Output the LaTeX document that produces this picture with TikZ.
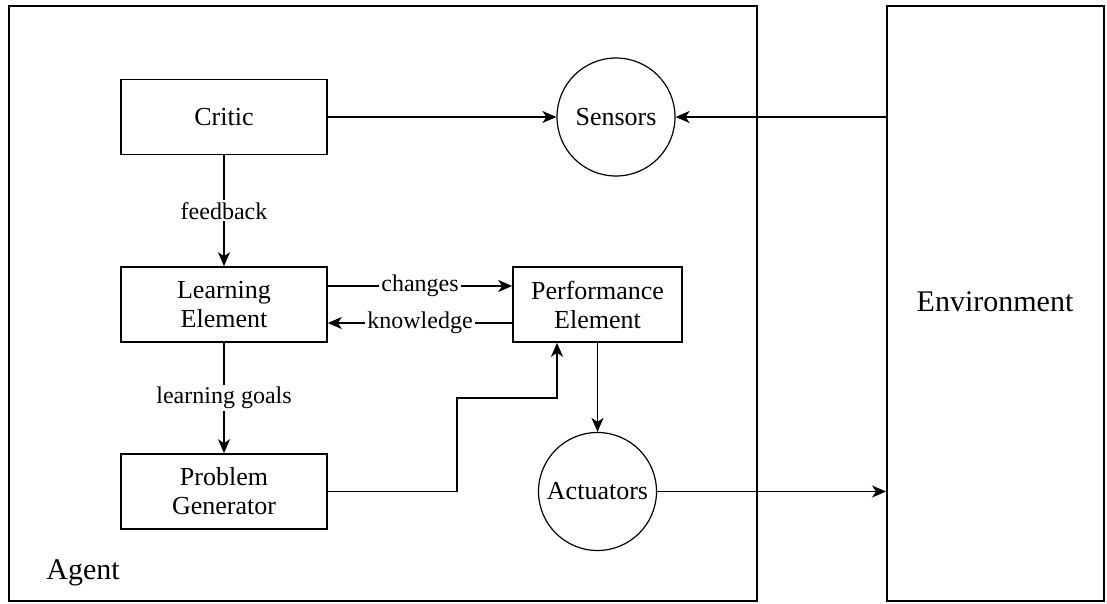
\documentclass[tikz,border=0pt]{standalone}
\usepackage{fontspec}
\setmainfont{Liberation Serif}
\newfontfamily\tnr{Liberation Serif}
\usetikzlibrary{arrows.meta,calc}
\begin{document}
\begin{tikzpicture}[x=1pt,y=1pt,
  box/.style={draw,line width=1.6pt,minimum width=206pt,minimum height=75pt,align=center,inner sep=0pt,font=\tnr\fontsize{26}{29}\selectfont},
  circ/.style={draw,circle,line width=1.2pt,minimum size=118pt,inner sep=0pt,font=\tnr\fontsize{26}{29}\selectfont},
  frame/.style={draw,line width=1.6pt},
  arr/.style={line width=1.8pt,-{Stealth[length=14pt,width=12pt,inset=4pt]}},
  lbl/.style={fill=white,inner sep=2pt,font=\tnr\fontsize{24}{27}\selectfont},
  big/.style={font=\tnr\fontsize{30}{34}\selectfont}
]
\useasboundingbox (0,0) rectangle (1107,-604);
% frames
\node[frame,minimum width=748pt,minimum height=595pt,inner sep=0pt,anchor=north west] (agentbox) at (8,-5) {};
\node[frame,minimum width=217pt,minimum height=595pt,inner sep=0pt,anchor=north west] (env) at (886,-5) {};
\node[big] (envlabel) at (995,-302) {Environment};
\node[big] (agent) at (83,-573) {Agent};
% nodes
\node[box] (critic) at (224,-117) {Critic};
\node[circ] (sensors) at (616,-117) {Sensors};
\node[box] (learn) at (224,-304.5) {Learning\\Element};
\node[box,minimum width=169pt] (perf) at (597.5,-304.5) {Performance\\Element};
\node[box] (probgen) at (224,-491.5) {Problem\\Generator};
\node[circ] (act) at (597.5,-491.5) {Actuators};
\coordinate (j1) at (457,-398);
% connectors
\draw[arr] (critic.east) -- (sensors.west);
\draw[arr] (env.west |- sensors.east) -- (sensors.east);
\draw[arr] (critic.south) -- node[lbl]{feedback} (learn.north);
\draw[arr] ([yshift=18.5pt]learn.east) -- node[lbl]{changes} ([yshift=18.5pt]perf.west);
\draw[arr] ([yshift=-18.5pt]perf.west) -- node[lbl]{knowledge} ([yshift=-18.5pt]learn.east);
\draw[arr] (learn.south) -- node[lbl]{learning goals} (probgen.north);
\draw[arr] (probgen.east) -| (j1) -| ([xshift=-40.5pt]perf.south);
\draw[arr] (perf.south) -- (act.north);
\draw[arr] (act.east) -- (env.west |- act.east);
\end{tikzpicture}
\end{document}
